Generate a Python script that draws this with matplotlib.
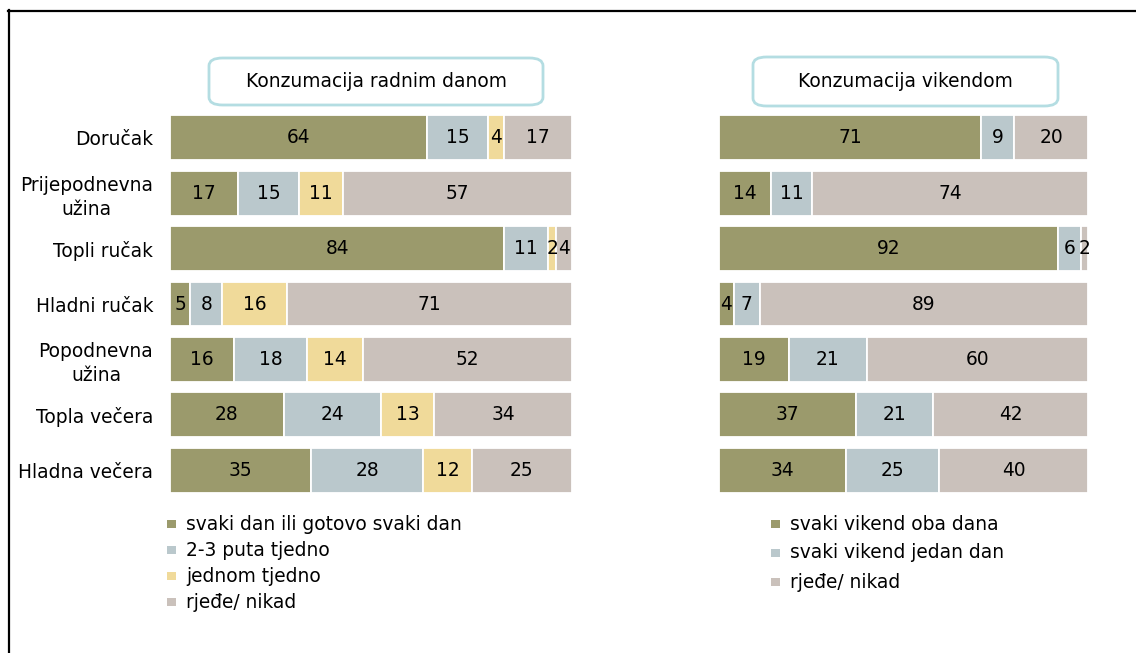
import matplotlib

matplotlib.use("Agg")
import matplotlib.pyplot as plt
import numpy as np
from matplotlib.lines import Line2D
from matplotlib.patches import FancyBboxPatch, Rectangle

plt.rcParams["font.family"] = ["DejaVu Sans"]

categories = ["Doručak", "Prijepodnevna\nužina", "Topli ručak", "Hladni ručak",
              "Popodnevna\nužina", "Topla večera", "Hladna večera"]

# radnim danom (weekday)
wd_daily = [64, 17, 84, 5, 16, 28, 35]
wd_2_3 = [15, 15, 11, 8, 18, 24, 28]
wd_once = [4, 11, 2, 16, 14, 13, 12]
wd_rarely = [17, 57, 4, 71, 52, 34, 25]
wd_labels = ["svaki dan ili gotovo svaki dan", "2-3 puta tjedno", "jednom tjedno", "rjeđe/ nikad"]

# vikendom (weekend)
we_both = [71, 14, 92, 4, 19, 37, 34]
we_one = [9, 11, 6, 7, 21, 21, 25]
we_rarely = [20, 74, 2, 89, 60, 42, 40]
we_labels = ["svaki vikend oba dana", "svaki vikend jedan dan", "rjeđe/ nikad"]

GREEN, BLUE, YELLOW, TAUPE = "#9b9a6c", "#bac8cc", "#f0da9a", "#cac1bb"
FS = 13.4

fig = plt.figure(figsize=(11.36, 6.53), dpi=100)


def stacked(ax, series, colors):
    data = np.array(series, dtype=float)
    totals = data.sum(axis=0)
    y = np.arange(len(categories))
    left = np.zeros(len(categories))
    for vals, raw, col in zip(data / totals * 100, data, colors):
        ax.barh(y, vals, left=left, height=0.81, color=col, edgecolor="white", linewidth=1.3)
        for yi, l, w, r in zip(y, left, vals, raw):
            ax.text(l + w / 2, yi, f"{r:.0f}", ha="center", va="center", fontsize=FS, color="black")
        left += vals
    ax.set_xlim(0, 100)
    ax.set_ylim(len(categories) - 0.5, -0.5)
    ax.set_xticks([])
    for s in ax.spines.values():
        s.set_visible(False)


ax1 = fig.add_axes([170 / 1136, 1 - 498 / 653, 402 / 1136, 388 / 653])
stacked(ax1, [wd_daily, wd_2_3, wd_once, wd_rarely], [GREEN, BLUE, YELLOW, TAUPE])
ax1.set_yticks(np.arange(len(categories)))
ax1.set_yticklabels(categories, fontsize=FS, multialignment="center", linespacing=1.3)
ax1.tick_params(axis="y", length=0, pad=12)

ax2 = fig.add_axes([719 / 1136, 1 - 498 / 653, 369 / 1136, 388 / 653])
stacked(ax2, [we_both, we_one, we_rarely], [GREEN, BLUE, TAUPE])
ax2.set_yticks([])


def title_box(x0, x1, y0, y1, text):
    W, H = 1136, 653
    box = FancyBboxPatch((x0 / W, 1 - y1 / H), (x1 - x0) / W, (y1 - y0) / H,
                         boxstyle="round,pad=0,rounding_size=0.012",
                         transform=fig.transFigure, facecolor="white",
                         edgecolor="#b4dde2", linewidth=2)
    fig.patches.append(box)
    fig.text((x0 + x1) / 2 / W, 1 - (y0 + y1) / 2 / H, text, ha="center", va="center", fontsize=FS)


title_box(209, 543, 58, 105, "Konzumacija radnim danom")
title_box(753, 1058, 57, 106, "Konzumacija vikendom")


def legend(x_marker, y_first, step, labels, colors):
    W, H = 1136, 653
    for i, (lab, col) in enumerate(zip(labels, colors)):
        yc = y_first + i * step
        fig.patches.append(Rectangle(((x_marker - 5) / W, 1 - (yc + 4) / H), 9 / W, 8 / H,
                                     transform=fig.transFigure, facecolor=col, edgecolor="none"))
        fig.text((x_marker + 14) / W, 1 - yc / H, lab, ha="left", va="center", fontsize=FS)


legend(172, 524, 26, wd_labels, [GREEN, BLUE, YELLOW, TAUPE])
legend(776, 524, 29, we_labels, [GREEN, BLUE, TAUPE])

# frame lines (top and left only, as in the source picture)
fig.add_artist(Line2D([8 / 1136, 1], [1 - 10.5 / 653] * 2, transform=fig.transFigure,
                      color="black", linewidth=1.6))
fig.add_artist(Line2D([8.5 / 1136] * 2, [0, 1 - 10 / 653], transform=fig.transFigure,
                      color="black", linewidth=1.6))

fig.savefig("out.png", dpi=100)
